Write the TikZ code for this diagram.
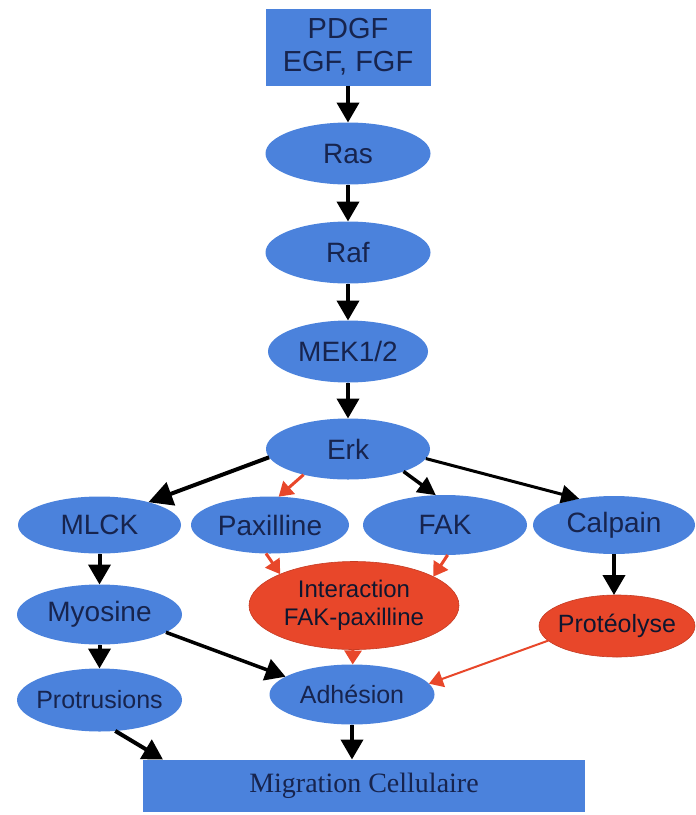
\documentclass[tikz,border=0pt]{standalone}
\usepackage{fontspec}
\setmainfont{Liberation Sans}
\newfontfamily\migfont{Liberation Serif}
\usetikzlibrary{positioning,shapes.geometric,arrows.meta}
\definecolor{protblue}{HTML}{4B82DC}
\definecolor{procred}{HTML}{E8472A}
\definecolor{labelnavy}{HTML}{17244E}

\begin{document}
\begin{tikzpicture}[align=center,-{Triangle[width=22pt,length=20pt]},line width=4pt]
	\tikzstyle{factor}=[rectangle,fill=protblue,text=labelnavy,font=\fontsize{29}{33}\selectfont,minimum width=165pt,minimum height=77pt,inner sep=0pt,outer sep=0pt]
	\tikzstyle{protein}=[ellipse,fill=protblue,text=labelnavy,font=\fontsize{28}{30}\selectfont,minimum width=165pt,minimum height=62pt,inner ysep=0pt,inner xsep=-15pt,outer sep=0pt]
	\tikzstyle{process}=[ellipse,fill=procred,draw=procred!85!black,line width=0.6pt,text=labelnavy!60!black,font=\fontsize{24}{28}\selectfont,inner ysep=0pt,inner xsep=-15pt,outer sep=0pt]
	\tikzstyle{redlink}=[color=procred,line width=3pt,-{Triangle[width=17pt,length=14pt]}]

	\useasboundingbox (0,0) rectangle (696pt,-815pt);

	\node[factor](growth) at (348pt,-47pt){PDGF\\EGF, FGF};
	\node[protein,below=37pt of growth](ras){Ras};
	\node[protein,below=37pt of ras](raf){Raf};
	\node[protein,below=37pt of raf,minimum width=160pt](mek){MEK1/2};
	\node[protein,below=36pt of mek,minimum width=164pt,minimum height=61pt](erk){Erk};

	\node[protein,below=17pt of erk,xshift=-78pt,minimum width=158pt,minimum height=57pt](paxilline){Paxilline};
	\node[protein,left=10pt of paxilline,minimum width=163pt,minimum height=57pt](mlck){MLCK};
	\node[protein,right=14pt of paxilline,minimum width=164pt,minimum height=60pt](fak){FAK};
	\node[protein,right=6pt of fak,minimum width=162pt,minimum height=58pt](calpain){Calpain};

	\node[protein,below=31pt of mlck,minimum height=60pt](myosine){Myosine};
	\node[protein,below=24pt of myosine,minimum height=63pt,font=\fontsize{25}{30}\selectfont](protrusions){Protrusions};

	\node[process,below=82pt of erk,xshift=6pt,minimum width=210pt,minimum height=88pt](interaction){Interaction\\FAK-paxilline};
	\node[protein,below=15pt of interaction,xshift=-2pt,minimum height=60pt,font=\fontsize{25}{30}\selectfont](adhesion){Adhésion};
	\node[process,below=41pt of calpain,xshift=3pt,minimum width=156pt,minimum height=62pt,font=\fontsize{25}{28}\selectfont](proteolyse){Protéolyse};

	\node[factor,below=35pt of adhesion,xshift=12pt,minimum width=442pt,minimum height=52pt,font=\migfont\fontsize{28}{33}\selectfont](migration){Migration Cellulaire};

	\draw(growth) -- (ras);
	\draw(ras) -- (raf);
	\draw(raf) -- (mek);
	\draw(mek) -- (erk);

	\draw[-{Triangle[width=24pt,length=24pt]}](erk.186) -- (mlck.25);
	\draw[redlink](erk.210) -- (paxilline.73);
	\draw[line width=3.5pt,-{Triangle[width=18pt,length=18pt]}](erk.338) -- (fak.107);
	\draw[line width=3pt,-{Triangle[width=18pt,length=18pt]}](erk.353) -- (calpain.143);

	\draw(mlck) -- (myosine);
	\draw(myosine) -- (protrusions);
	\draw[redlink](paxilline.262) -- (interaction.157);
	\draw[redlink](fak.275) -- (interaction.20);
	\draw(calpain.south) -- (calpain.south |- proteolyse.north);

	\draw[line width=3.5pt](myosine.345) -- (adhesion.165);
	\draw[redlink](interaction) -- (adhesion);
	\draw[redlink,line width=2pt](proteolyse.192) -- (adhesion.8);

	\draw(protrusions.297) -- ([xshift=20pt]migration.north west);
	\draw(adhesion.south) -- (adhesion.south |- migration.north);
\end{tikzpicture}
\end{document}
